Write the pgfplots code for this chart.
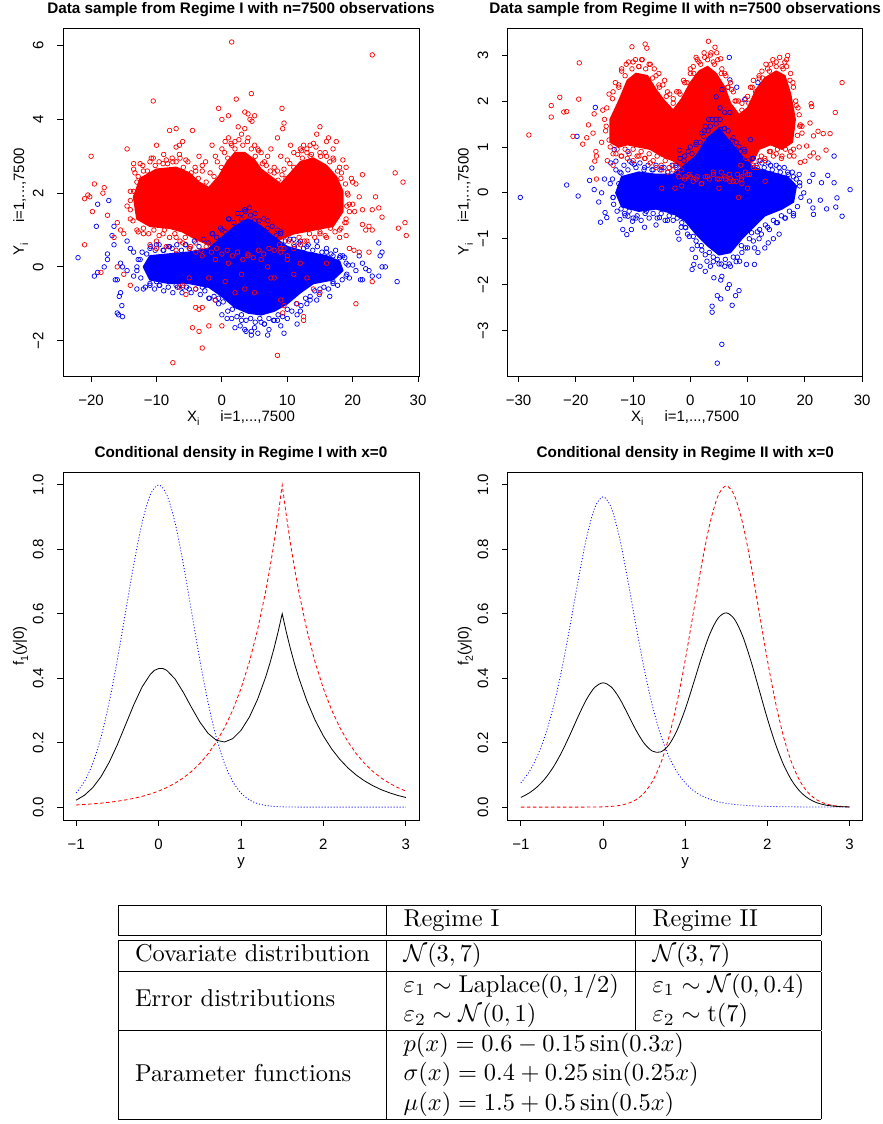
\documentclass[border=0pt]{standalone}
\usepackage{fontspec}
\usepackage{graphicx}
\usepackage{pgfplots}
\pgfplotsset{compat=1.18}
\newfontfamily\plotfont{Liberation Sans}
\newcommand{\sub}[1]{\raisebox{-0.28em}{\fontsize{10.5bp}{10.5bp}\selectfont #1}}

\pgfplotsset{
  rplot/.style={
    scale only axis,
    width=356bp, height=348bp,
    tick align=outside, tick pos=left,
    major tick length=5.7bp,
    every tick/.style={black, line width=0.8bp},
    axis line style={black, line width=0.8bp},
    tick label style={font=\plotfont\fontsize{15bp}{18bp}\selectfont},
    xticklabel style={anchor=base, yshift=-23.5bp},
    yticklabel style={rotate=90, anchor=base, yshift=14bp},
    title style={font=\plotfont\bfseries\fontsize{15.3bp}{18bp}\selectfont, at={(0.5,1)}, anchor=base, yshift=9bp},
    every axis x label/.style={at={(0.5,0)}, anchor=base, yshift=-45bp, font=\plotfont\fontsize{15bp}{18bp}\selectfont},
    every axis y label/.style={at={(0,0.5)}, rotate=90, anchor=base, yshift=39bp, font=\plotfont\fontsize{15bp}{18bp}\selectfont},
  },
  pts/.style={only marks, mark=o, mark size=2.3bp, mark options={line width=0.7bp}},
  core/.style={line width=1.5bp, line join=round},
}

\begin{document}
\begin{tikzpicture}
\path[use as bounding box] (0bp,0bp) rectangle (883bp,-1124bp);

% ---------- Regime I sample ----------
\begin{axis}[rplot, at={(63bp,-376bp)}, anchor=south west,
    xmin=-24.3, xmax=30.15, ymin=-2.96, ymax=6.48,
    xtick={-20,-10,0,10,20,30}, xticklabels={−20,−10,0,10,20,30},
    ytick={-2,0,2,4,6}, yticklabels={−2,0,2,4,6},
    title={Data sample from Regime I with n=7500 observations},
    xlabel={X\sub{i}\hspace{21bp}i=1,...,7500},
    ylabel={Y\sub{i}\hspace{21bp}i=1,...,7500}]
\addplot[core, draw=red, fill=red] coordinates {(-13,1.3)(-13.5,1.9)(-12.5,2.4)(-10,2.65)(-7,2.7)(-5,2.55)(-3.5,2.3)(-2,2.15)(-0.5,2.45)(0.8,2.85)(2,3.1)(3.5,3.1)(5,2.9)(6,2.65)(7.5,2.45)(9,2.25)(10.5,2.55)(12,2.85)(14,2.95)(16,2.75)(17.5,2.45)(18.5,2.05)(18.5,1.5)(17,1.1)(14,1.0)(11,0.9)(9,0.75)(7,0.6)(4,0.45)(1,0.5)(-2,0.6)(-4,0.75)(-6,0.95)(-8,1.05)(-11,1.1)} -- cycle;
\addplot[core, draw=blue, fill=blue] coordinates {(-12,0.0)(-11,0.3)(-8,0.35)(-5,0.4)(-2,0.5)(0,0.8)(2,1.1)(4,1.3)(6,1.1)(8,0.8)(10,0.55)(13,0.4)(16,0.3)(18,0.15)(18.5,-0.1)(17,-0.35)(14,-0.45)(12,-0.7)(10,-1.0)(8,-1.2)(6,-1.3)(4,-1.25)(2,-1.1)(0,-0.8)(-2,-0.55)(-5,-0.45)(-8,-0.45)(-11,-0.35)} -- cycle;
\addplot[pts, blue] coordinates {(-22,0.25)(-19,1.7)(-17.3,1.8)(-19.2,1.1)(-16.5,1.1)(-16.8,0.85)(-16.5,0.6)(-17.5,0.35)(-17.5,0.2)(-18,0.0)(-19.5,-0.25)(-19,-0.15)(-16.3,-0.35)(-16,-0.35)(-15.5,-0.7)(-15.7,-0.8)(-15.3,-1.05)(-16,-1.25)(-15.8,-1.3)(-15.2,-1.35)(-15.5,0.1)(-15.2,0.0)(-14.5,0.7)(-14,0.5)(-13.5,0.4)(-13.5,-0.25)(-13,-0.6)(-12,-0.6)(-11,-0.5)(-10,-0.4)(-9.5,-0.5)(-11,0.5)(-10,0.6)(-8,0.55)(-7,0.35)(-5.5,0.6)(-4,0.3)(-3,-0.55)(-2,-0.85)(-1.5,0.9)(0,1.0)(1,1.3)(3,1.45)(4.2,1.6)(3.5,1.55)(5,1.25)(7,1.25)(8.5,1.0)(9,0.9)(11,0.75)(12,0.7)(14.5,0.7)(13,0.55)(16,0.4)(17,0.3)(18,0.25)(19,0.1)(20,0.05)(20.5,-0.1)(21,0.3)(21.5,0.1)(22,-0.05)(22.5,-0.1)(23,-0.25)(24,-0.25)(24.5,0.0)(25,0.0)(24.2,0.3)(24.5,0.4)(24,0.65)(26.8,-0.4)(21.2,-0.35)(21.5,-0.35)(19.5,-0.3)(17,-0.4)(16,-0.3)(16.5,-0.8)(15,-0.6)(14.5,-0.9)(13,-1.0)(12,-1.2)(11.5,-1.3)(11.5,-1.55)(10,-1.4)(9.5,-1.8)(9,-1.6)(8.5,-1.45)(7.2,-1.7)(7,-1.85)(6,-1.5)(5.5,-1.8)(4.5,-1.75)(4.5,-1.85)(3.5,-1.7)(3.7,-1.75)(2.8,-1.6)(2,-1.65)(1.5,-1.4)(0.8,-1.4)(0,-1.3)(-0.5,-0.85)(-1,-0.9)(-2.5,-0.5)(-5,-0.6)(-7,-0.5)(-8.5,-0.35)(6.5,-1.55)(8,-1.45)(5,-1.65)(3,-1.45)(-12.5,0.2)(-13,0.0)(-14.5,-0.1)(-9,0.45)(-6,-0.55)(18.5,0.3)(19,-0.25)(13.5,-0.8)
(-12.8,0.2)(-12.2,0.4)(-11.5,0.35)(-10.9,0.55)(-10.2,0.45)(-9.6,0.6)(-8.9,0.45)(-8.2,0.55)(-7.6,0.5)(-6.9,0.6)(-6.2,0.45)(-5.6,0.6)(-4.9,0.5)(-4.2,0.7)(-3.5,0.55)(-2.8,0.75)(-2.1,0.65)(-1.4,0.9)(-0.8,0.8)(-0.2,1.05)(0.5,0.95)(1.1,1.3)(1.8,1.2)(2.4,1.45)(3.0,1.3)(3.6,1.5)(4.4,1.4)(5.1,1.45)(5.7,1.25)(6.4,1.3)(7.0,1.05)(7.7,1.1)(8.3,0.85)(9.0,0.95)(9.7,0.7)(10.4,0.75)(11.1,0.55)(11.8,0.65)(12.5,0.5)(13.2,0.6)(13.9,0.45)(14.6,0.55)(15.3,0.4)(16.0,0.5)(16.7,0.35)(17.4,0.45)(18.1,0.3)(18.8,0.25)(19.3,0.05)(19.1,-0.2)(18.4,-0.35)(17.7,-0.5)(17.0,-0.45)(16.3,-0.6)(15.6,-0.55)(14.9,-0.75)(14.2,-0.65)(13.5,-0.9)(12.8,-0.85)(12.1,-1.05)(11.4,-1.0)(10.7,-1.2)(10.0,-1.15)(9.3,-1.35)(8.6,-1.3)(7.9,-1.45)(7.2,-1.4)(6.5,-1.55)(5.8,-1.4)(5.1,-1.5)(4.4,-1.4)(3.7,-1.45)(3.0,-1.3)(2.3,-1.35)(1.6,-1.15)(0.9,-1.2)(0.2,-0.95)(-0.5,-1.0)(-1.2,-0.8)(-1.9,-0.85)(-2.6,-0.65)(-3.3,-0.75)(-4.0,-0.6)(-4.7,-0.7)(-5.4,-0.55)(-6.1,-0.7)(-6.8,-0.55)(-7.5,-0.7)(-8.2,-0.55)(-8.9,-0.65)(-9.6,-0.5)(-10.3,-0.6)(-11.0,-0.45)(-11.7,-0.55)(-12.4,-0.3)(-13.0,-0.1)};
\addplot[pts, red] coordinates {(1.5,6.1)(23,5.75)(-10.5,4.5)(2.2,4.55)(4.5,4.7)(-0.5,4.3)(9.2,4.3)(3.5,4.2)(4,4.15)(5,4.1)(0,4.0)(1,4.1)(4.3,4.0)(4.6,3.95)(-7,3.75)(-8,3.7)(-4.5,3.7)(8.5,3.5)(9.5,3.9)(9.3,3.75)(15,3.8)(14.5,3.6)(13.5,3.3)(14,3.35)(12.5,3.3)(12.2,3.15)(17,3.2)(16,3.4)(17.5,3.4)(16.3,3.5)(-6.5,3.3)(-7,3.25)(-6,3.4)(-10,3.3)(-14.5,3.2)(-13.5,2.8)(-13.5,2.65)(-11,2.85)(-20,3.0)(-19.5,2.25)(-20.5,1.95)(-21,1.85)(-20.2,1.9)(-18,2.15)(-18.2,2.0)(-17.5,1.4)(-19.8,1.5)(-21,0.6)(-16,1.2)(-15.5,1.0)(-16.5,0.8)(-15,0.9)(-14.5,1.65)(-14,2.05)(-12.5,2.1)(19,2.7)(18.2,2.4)(20,2.3)(20.5,2.25)(21.5,2.5)(21,1.9)(21.5,1.55)(20,1.7)(20.3,1.5)(22,1.0)(22.5,0.4)(21,0.4)(19.5,0.5)(20.2,0.45)(23,1.55)(24,1.6)(24.5,1.35)(23.5,1.9)(26.5,2.55)(27.7,2.3)(27,1.05)(28,1.2)(28.2,0.85)(21.5,1.15)(22.5,1.1)(23,1.0)(19,1.2)(18,0.8)(19,0.85)(20.5,-1.0)(23,-0.4)(-16,0.0)(-15,-0.2)(-18.5,-0.15)(-14,-0.5)(-4,-1.1)(-3.5,-1.15)(-3,-1.1)(-4.5,-1.65)(-3.5,-1.75)(-3,-2.2)(-7.5,-2.6)(-2,-1.6)(0,-1.6)(-1,-0.9)(2,-0.7)(5,-0.7)(8,-0.3)(9,-0.9)(9.5,-1.05)(11.5,-1.0)(12.5,-1.35)(12.5,-1.45)(8.5,-2.4)(9.3,-1.25)(-6,-0.5)(-5,-0.3)(-6.5,-0.55)(-2,-0.3)(0.5,-0.4)(3,-0.2)(6,0.2)(10,0.2)(11,-0.2)(13,-0.3)(14,-0.6)(15,-0.7)(3.5,-0.6)(7.5,-0.3)(-5.5,-0.75)(-4,-0.6)(1,0.1)(4,0.3)(7,0.0)(9,0.5)(-1,0.2)(12,0.1)(16,0.1)(-12,2.6)(-11,2.5)(-9,2.8)(-8.5,2.9)(-7.5,2.85)(-5.5,2.9)(-4,2.6)(-3,2.75)(-2.5,2.85)(-1,3.0)(0,3.2)(0.5,3.4)(1,3.5)(1.5,3.3)(2,3.4)(3,3.6)(4,3.5)(5,3.3)(5.5,3.2)(6.5,2.85)(7,3.0)(8,2.7)(8.5,2.6)(9.5,2.65)(10,2.9)(11,3.1)(12,3.2)(13,3.1)(15,3.1)(16,3.0)(17,2.95)(18,2.7)(19.2,2.0)(19.5,1.7)(18.8,1.2)(18,1.0)(16,0.8)(15,0.9)(13,0.7)(12,0.6)(11,0.5)(10,0.3)(9,0.4)(-3,0.3)(-4,0.4)(-5,0.5)(-7,0.8)(-9,0.9)(-10,0.7)(-12,0.9)(-13,1.0)(-14,1.3)(-14,1.8)(-13,2.3)(-10,0.5)(-8.5,0.55)(-7,0.45)(-6,0.65)(-11,0.6)(-12.5,2.8)(-10.5,2.95)(-6.5,3.05)(-3.5,3.0)(-1.5,3.3)(2.5,3.8)(3.5,3.75)(6,3.1)(7.5,3.2)(9,3.0)(10.5,3.3)(13.5,3.0)(18.5,2.9)(19.8,2.4)
(-13.5,2.05)(-13.3,2.55)(-12.8,2.45)(-12.1,2.75)(-11.4,2.6)(-10.8,2.95)(-10.2,2.75)(-9.6,2.85)(-8.9,3.05)(-8.3,2.8)(-7.6,2.95)(-7.0,2.85)(-6.4,2.95)(-5.9,2.7)(-5.2,2.85)(-4.7,2.55)(-4.1,2.7)(-3.6,2.4)(-3.0,2.6)(-2.4,2.3)(-1.8,2.55)(-1.2,2.45)(-0.7,2.85)(-0.1,2.7)(0.4,3.1)(0.9,2.95)(1.4,3.35)(2.0,3.2)(2.6,3.45)(3.2,3.3)(3.9,3.4)(4.5,3.2)(5.1,3.0)(5.6,3.15)(6.2,2.8)(6.8,2.75)(7.4,2.6)(8.0,2.55)(8.6,2.35)(9.2,2.5)(9.8,2.4)(10.4,2.8)(11.0,2.7)(11.6,3.05)(12.3,2.95)(13.0,3.2)(13.7,3.05)(14.4,3.25)(15.1,3.0)(15.8,3.1)(16.5,2.85)(17.1,2.9)(17.7,2.6)(18.3,2.55)(18.9,2.25)(19.3,1.95)(19.1,1.65)(19.5,1.5)(19.0,1.3)(18.2,1.05)(17.3,0.95)(16.6,1.05)(15.8,0.85)(15.0,0.95)(14.2,0.8)(13.4,0.9)(12.6,0.7)(11.8,0.8)(11.0,0.6)(10.2,0.7)(9.5,0.5)(8.8,0.6)(8.0,0.45)(7.2,0.5)(6.4,0.35)(5.6,0.45)(4.8,0.25)(4.0,0.35)(3.2,0.2)(2.4,0.4)(1.6,0.3)(0.8,0.45)(0.0,0.35)(-0.8,0.5)(-1.6,0.4)(-2.4,0.55)(-3.2,0.45)(-4.0,0.65)(-4.8,0.55)(-5.6,0.8)(-6.4,0.7)(-7.2,0.9)(-8.0,0.8)(-8.8,1.0)(-9.6,0.85)(-10.4,1.0)(-11.2,0.9)(-12.0,1.05)(-12.8,0.95)(-13.6,1.25)(-14.0,1.55)};
\end{axis}

% ---------- Regime II sample ----------
\begin{axis}[rplot, at={(507.7bp,-376bp)}, anchor=south west, width=355bp,
    xmin=-31.9, xmax=30.1, ymin=-3.99, ymax=3.59,
    xtick={-30,-20,-10,0,10,20,30}, xticklabels={−30,−20,−10,0,10,20,30},
    ytick={-3,-2,-1,0,1,2,3}, yticklabels={−3,−2,−1,0,1,2,3},
    title={Data sample from Regime II with n=7500 observations},
    xlabel={X\sub{i}\hspace{21bp}i=1,...,7500},
    ylabel={Y\sub{i}\hspace{21bp}i=1,...,7500}]
\addplot[core, draw=red, fill=red] coordinates {(-14,1.1)(-14,1.6)(-12.5,2.0)(-11,2.45)(-9.5,2.6)(-7.5,2.55)(-6,2.25)(-4.5,2.0)(-3,1.8)(-1.5,2.05)(0,2.4)(1.5,2.65)(3,2.75)(4.5,2.6)(6,2.3)(7,1.95)(8.5,1.7)(10,1.85)(11.5,2.25)(13,2.5)(15,2.65)(16.5,2.55)(17.5,2.15)(18.3,1.6)(17.8,1.1)(16,0.95)(14,1.05)(12,0.95)(11,0.7)(9.5,0.55)(8,0.5)(6.5,0.5)(5,0.55)(3,0.5)(1.5,0.4)(0,0.45)(-1.5,0.55)(-3,0.7)(-5,0.8)(-7,0.95)(-9,1.0)(-11,1.05)(-12.5,1.0)} -- cycle;
\addplot[core, draw=blue, fill=blue] coordinates {(-13,0.0)(-12,0.35)(-9,0.45)(-6,0.4)(-3,0.4)(-1,0.6)(1,0.8)(3,1.2)(5,1.4)(7,1.1)(9,0.8)(11,0.55)(14,0.45)(17,0.35)(18.5,0.15)(18,-0.2)(16,-0.35)(13,-0.5)(11,-0.75)(9,-1.0)(7,-1.3)(5,-1.35)(3,-1.15)(1,-0.9)(-1,-0.6)(-3,-0.45)(-6,-0.35)(-9,-0.4)(-12,-0.3)} -- cycle;
\addplot[pts, blue] coordinates {(5.5,-3.3)(4.7,-3.71)(3.8,-2.47)(3.8,-2.6)(4.7,-2.24)(5.3,-2.31)(7.3,-2.45)(8.5,-2.13)(7.9,-2.24)(6.5,-2.08)(6.8,-2.0)(4.1,-1.85)(5.5,-1.82)(5.3,-1.9)(0.3,-1.23)(0.9,-1.41)(0.3,-1.67)(0.6,-1.56)(2.9,-1.49)(3.5,-1.6)(1.7,-1.6)(2.6,-1.71)(8.6,-1.49)(9.8,-1.56)(11.2,-1.56)(13.6,-1.09)(11.2,-1.2)(10.7,-0.87)(12.1,-0.8)(11.8,-1.3)(6.8,2.95)(6.9,2.46)(8.1,2.3)(9.5,2.03)(11.8,2.4)(5.5,2.25)(4.5,2.09)(5.2,1.85)(6.0,1.75)(6.9,1.75)(3.2,1.6)(2.6,1.45)(-1.9,0.93)(2.3,1.23)(5.2,1.38)(10.5,1.16)(-16.6,1.86)(-19.8,1.23)(-21.6,0.17)(-19.6,-0.07)(-29.7,-0.1)(27.9,0.07)(25.1,0.8)(25.1,0.22)(25.6,-0.11)(25.4,-0.31)(26.5,-0.51)(24.0,0.38)(22.9,0.22)(23.8,-0.35)(22.7,-0.16)(21.4,-0.33)(21.5,-0.47)(20.8,0.25)(20.8,-0.18)(21.4,0.4)(19.8,0)(19.1,0.22)(-17.2,0.54)(-17.6,0.27)(-16.8,0.07)(-15.7,-0.64)(-14.9,-0.43)(-14.6,-0.54)(-13.4,-0.25)(-12.3,-0.58)(-11.8,-0.8)(-11.1,-0.91)(-10.3,-0.8)(-10.1,-0.62)(-10.9,-0.51)(-13.9,0.65)(-13.0,0.69)(-13.3,0.94)(-10.9,0.9)(-10.6,0.69)(-9.8,0.62)(-12.1,0.43)(-8.9,-0.14)(-7.7,-0.4)(-5.4,-0.54)(-3.1,-0.43)(-2.2,-0.87)(-2.0,-1.01)(-0.8,-0.76)(-14,0.2)(-13.5,-0.1)(-12.5,0.2)(-11.5,-0.45)(-9.5,-0.55)(-8,0.55)(-6.5,0.5)(-5,0.55)(-4,-0.6)(-2.5,0.6)(-1,0.8)(0,1.0)(1,1.1)(2,1.3)(3.5,1.45)(4.5,1.6)(6,1.4)(7.5,1.2)(8.5,1.0)(9.5,0.9)(11,0.75)(12.5,0.65)(14,0.6)(15.5,0.55)(17,0.45)(18,0.35)(19,0.4)(18,-0.5)(16.5,-0.55)(15,-0.65)(13.5,-0.75)(12,-1.0)(10,-1.2)(9,-1.3)(8,-1.5)(7,-1.6)(6,-1.6)(5,-1.55)(4,-1.4)(2,-1.25)(1,-1.05)(-0.5,-0.9)(-1.5,-0.65)(17.5,0.0)(16,-0.1)(-15,0.3)(-15.5,0.0)(-16,-0.2)(14.5,-1.0)(13,-1.2)(15.5,-0.9)(-6,-0.7)(-8,-0.75)
(-13.6,0.3)(-13.0,0.5)(-12.3,0.45)(-11.6,0.6)(-10.9,0.5)(-10.2,0.65)(-9.5,0.55)(-8.8,0.65)(-8.1,0.5)(-7.4,0.6)(-6.7,0.5)(-6.0,0.6)(-5.3,0.5)(-4.6,0.55)(-3.9,0.45)(-3.2,0.6)(-2.5,0.55)(-1.8,0.75)(-1.1,0.7)(-0.4,0.9)(0.3,0.85)(1.0,1.05)(1.7,1.1)(2.4,1.35)(3.1,1.35)(3.8,1.6)(4.5,1.5)(5.2,1.6)(5.9,1.4)(6.6,1.35)(7.3,1.15)(8.0,1.1)(8.7,0.9)(9.4,0.95)(10.1,0.7)(10.8,0.75)(11.5,0.6)(12.2,0.7)(12.9,0.55)(13.6,0.65)(14.3,0.5)(15.0,0.6)(15.7,0.45)(16.4,0.55)(17.1,0.4)(17.8,0.45)(18.5,0.3)(19.1,0.15)(19.3,-0.1)(18.7,-0.3)(18.0,-0.45)(17.3,-0.4)(16.6,-0.55)(15.9,-0.5)(15.2,-0.65)(14.5,-0.6)(13.8,-0.8)(13.1,-0.7)(12.4,-0.9)(11.7,-0.85)(11.0,-1.05)(10.3,-1.0)(9.6,-1.2)(8.9,-1.15)(8.2,-1.4)(7.5,-1.4)(6.8,-1.55)(6.1,-1.45)(5.4,-1.55)(4.7,-1.45)(4.0,-1.5)(3.3,-1.3)(2.6,-1.35)(1.9,-1.15)(1.2,-1.15)(0.5,-0.95)(-0.2,-0.95)(-0.9,-0.75)(-1.6,-0.75)(-2.3,-0.55)(-3.0,-0.6)(-3.7,-0.5)(-4.4,-0.6)(-5.1,-0.45)(-5.8,-0.55)(-6.5,-0.45)(-7.2,-0.55)(-7.9,-0.45)(-8.6,-0.6)(-9.3,-0.5)(-10.0,-0.55)(-10.7,-0.4)(-11.4,-0.5)(-12.1,-0.35)(-12.8,-0.4)(-13.5,-0.1)};
\addplot[pts, red] coordinates {(-10.2,3.18)(-7.9,3.24)(-7.6,3.15)(-19.4,2.83)(-19.5,2.04)(-22.8,2.08)(-24.3,1.9)(-24.3,1.65)(-22.1,1.76)(-21.6,1.77)(-28.2,1.26)(-20.5,1.23)(-18.8,1.06)(-18.1,1.2)(-17.8,1.48)(-16.8,1.72)(-16.5,0.9)(-16.4,0.8)(-16.7,0.69)(-16.4,0.3)(3.15,3.3)(4.3,3.17)(4.6,3.05)(5.3,2.92)(17,2.99)(26.5,2.4)(25.3,1.75)(21.1,1.94)(21.2,1.88)(20.9,1.52)(19.2,1.48)(19.5,1.45)(24.4,1.29)(23.2,1.29)(22.3,1.34)(21.5,1.24)(23.7,0.93)(20.3,1.02)(19.2,0.66)(20,0.69)(20.9,0.8)(21.5,0.87)(22.3,0.76)(18.1,0.8)(-5,0.1)(-2.7,0.1)(13.06,0.25)(8.4,-0.1)(6.9,0.25)(-15,1.6)(-15.5,1.1)(-14.5,0.7)(-14.8,1.35)(-13.5,2.2)(-12.5,2.35)(-12,2.7)(-11.2,2.8)(-10,2.85)(-9,2.75)(-8.5,2.9)(-7,2.8)(-6.3,2.7)(-5.5,2.6)(-4.5,2.45)(-4,2.2)(-3,2.05)(-2,2.2)(-5.5,2.35)(-13,0.85)(-12,0.8)(-11,0.75)(-10,0.7)(-9,0.8)(-8,0.75)(-7,0.65)(-6,0.55)(-5,0.5)(-4,0.45)(-3,0.5)(-2,0.35)(-1,0.3)(-13.5,0.6)(-14,1.0)(-15.3,1.8)(-17,1.3)(-1,2.4)(0,2.6)(0.5,2.75)(1.5,2.85)(2.5,2.95)(3.5,3.0)(4,2.85)(5.5,2.7)(6.2,2.55)(6.5,2.3)(7,2.4)(7.5,2.2)(8,2.0)(9,1.95)(6,2.1)(-0.5,2.2)(1,2.95)(10,2.1)(10.5,2.3)(11,2.45)(12,2.5)(12.5,2.65)(13.5,2.7)(14,2.8)(15,2.85)(16,2.75)(16.5,2.85)(17.5,2.6)(18,2.3)(18.5,1.9)(19,1.7)(19.5,1.3)(19,1.0)(17.5,0.9)(16,0.8)(15,0.85)(14,0.9)(13,0.75)(12,0.7)(11,0.55)(10,0.4)(9,0.35)(17.8,1.4)(16.8,2.9)(0,0.35)(1,0.3)(2,0.2)(3,0.35)(4,0.4)(5,0.3)(6,0.35)(7,0.3)(8,0.25)(9,0.2)(10,0.1)(-1.5,0.15)(5,0.1)(8.8,0.6)(9.7,0.75)
(-14.6,1.85)(-14.2,2.15)(-13.6,2.05)(-13.1,2.4)(-12.5,2.3)(-12.0,2.65)(-11.4,2.55)(-10.8,2.85)(-10.2,2.7)(-9.6,2.9)(-9.0,2.75)(-8.4,2.9)(-7.8,2.7)(-7.2,2.8)(-6.6,2.5)(-6.0,2.55)(-5.4,2.3)(-4.8,2.35)(-4.2,2.1)(-3.6,2.15)(-3.0,1.95)(-2.4,2.2)(-1.8,2.15)(-1.2,2.45)(-0.6,2.4)(0.0,2.7)(0.6,2.6)(1.2,2.9)(1.8,2.8)(2.4,3.05)(3.0,2.9)(3.6,3.05)(4.2,2.8)(4.8,2.9)(5.4,2.6)(6.0,2.6)(6.6,2.3)(7.2,2.25)(7.8,2.0)(8.4,2.0)(9.0,1.8)(9.6,2.05)(10.2,1.95)(10.8,2.3)(11.4,2.2)(12.0,2.55)(12.6,2.5)(13.2,2.8)(13.8,2.65)(14.4,2.9)(15.0,2.75)(15.6,2.95)(16.2,2.7)(16.8,2.75)(17.4,2.45)(17.9,2.4)(18.4,2.0)(18.8,1.85)(19.1,1.45)(18.7,1.25)(18.0,0.95)(17.3,0.8)(16.6,0.95)(15.9,0.75)(15.2,0.95)(14.5,0.8)(13.8,0.9)(13.1,0.7)(12.4,0.8)(11.7,0.55)(11.0,0.6)(10.3,0.4)(9.6,0.45)(8.9,0.3)(8.2,0.4)(7.5,0.25)(6.8,0.4)(6.1,0.3)(5.4,0.45)(4.7,0.3)(4.0,0.45)(3.3,0.3)(2.6,0.35)(1.9,0.2)(1.2,0.35)(0.5,0.25)(-0.2,0.4)(-0.9,0.35)(-1.6,0.5)(-2.3,0.45)(-3.0,0.6)(-3.7,0.55)(-4.4,0.7)(-5.1,0.6)(-5.8,0.8)(-6.5,0.7)(-7.2,0.85)(-7.9,0.75)(-8.6,0.9)(-9.3,0.8)(-10.0,0.95)(-10.7,0.85)(-11.4,0.95)(-12.1,0.8)(-12.8,0.95)(-13.5,0.85)(-14.2,1.15)(-14.7,1.45)};
\end{axis}

% ---------- Regime I density ----------
\begin{axis}[rplot, at={(63bp,-820bp)}, anchor=south west,
    xmin=-1.16, xmax=3.16, ymin=-0.04, ymax=1.04,
    xtick={-1,0,1,2,3}, xticklabels={−1,0,1,2,3},
    ytick={0,0.2,0.4,0.6,0.8,1}, yticklabels={0.0,0.2,0.4,0.6,0.8,1.0},
    title={Conditional density in Regime I with x=0},
    xlabel={y}, ylabel={f\sub{1}(y|0)}]
\addplot[blue, line width=0.8bp, dash pattern=on 1bp off 2bp, smooth] coordinates {(-1.0,0.0439)(-0.9,0.0796)(-0.8,0.1353)(-0.7,0.2163)(-0.6,0.3247)(-0.5,0.4578)(-0.4,0.6065)(-0.3,0.7548)(-0.2,0.8825)(-0.1,0.9692)(0,1)(0.1,0.9692)(0.2,0.8825)(0.3,0.7548)(0.4,0.6065)(0.5,0.4578)(0.6,0.3247)(0.7,0.2163)(0.8,0.1353)(0.9,0.0796)(1.0,0.0439)(1.1,0.0228)(1.2,0.0111)(1.3,0.0051)(1.4,0.0022)(1.5,0.0009)(1.6,0.0003)(1.8,0)(3,0)};
\addplot[red, line width=0.8bp, dash pattern=on 3.5bp off 2.5bp] coordinates {(-1.0,0.0067)(-0.9,0.0082)(-0.8,0.0101)(-0.7,0.0123)(-0.6,0.0150)(-0.5,0.0183)(-0.4,0.0224)(-0.3,0.0273)(-0.2,0.0334)(-0.1,0.0408)(0,0.0498)(0.1,0.0608)(0.2,0.0743)(0.3,0.0907)(0.4,0.1108)(0.5,0.1353)(0.6,0.1653)(0.7,0.2019)(0.8,0.2466)(0.9,0.3012)(1.0,0.3679)(1.1,0.4493)(1.2,0.5488)(1.3,0.6703)(1.35,0.7408)(1.4,0.8187)(1.45,0.9048)(1.5,1)(1.55,0.9048)(1.6,0.8187)(1.65,0.7408)(1.7,0.6703)(1.8,0.5488)(1.9,0.4493)(2.0,0.3679)(2.1,0.3012)(2.2,0.2466)(2.3,0.2019)(2.4,0.1653)(2.5,0.1353)(2.6,0.1108)(2.7,0.0907)(2.8,0.0743)(2.9,0.0608)(3.0,0.0498)};
\addplot[black, line width=0.8bp] coordinates {(-1.0,0.0216)(-0.9,0.0368)(-0.8,0.0602)(-0.7,0.0939)(-0.6,0.1389)(-0.5,0.1941)(-0.4,0.2560)(-0.3,0.3183)(-0.2,0.3730)(-0.1,0.4122)(-0.05,0.4245)(0,0.4299)(0.05,0.4304)(0.1,0.4242)(0.2,0.3976)(0.3,0.3563)(0.4,0.3091)(0.5,0.2643)(0.6,0.2291)(0.7,0.2077)(0.8,0.2021)(0.9,0.2126)(1.0,0.2383)(1.1,0.2787)(1.2,0.3337)(1.3,0.4042)(1.35,0.4458)(1.4,0.4921)(1.45,0.5435)(1.5,0.6004)(1.55,0.5431)(1.6,0.4913)(1.65,0.4446)(1.7,0.4022)(1.8,0.3293)(1.9,0.2696)(2.0,0.2207)(2.1,0.1807)(2.2,0.1480)(2.3,0.1211)(2.4,0.0992)(2.5,0.0812)(2.6,0.0665)(2.7,0.0544)(2.8,0.0446)(2.9,0.0365)(3.0,0.0299)};
\end{axis}

% ---------- Regime II density ----------
\begin{axis}[rplot, at={(507.7bp,-820bp)}, anchor=south west, width=355bp,
    xmin=-1.16, xmax=3.16, ymin=-0.04, ymax=1.04,
    xtick={-1,0,1,2,3}, xticklabels={−1,0,1,2,3},
    ytick={0,0.2,0.4,0.6,0.8,1}, yticklabels={0.0,0.2,0.4,0.6,0.8,1.0},
    title={Conditional density in Regime II with x=0},
    xlabel={y}, ylabel={f\sub{2}(y|0)}]
\addplot[blue, line width=0.8bp, dash pattern=on 1bp off 2bp, smooth] coordinates {(-1.0,0.0750)(-0.9,0.1092)(-0.8,0.1579)(-0.7,0.2255)(-0.6,0.3158)(-0.5,0.4301)(-0.4,0.5645)(-0.3,0.7068)(-0.2,0.8369)(-0.1,0.9294)(0,0.963)(0.1,0.9294)(0.2,0.8369)(0.3,0.7068)(0.4,0.5645)(0.5,0.4301)(0.6,0.3158)(0.7,0.2255)(0.8,0.1579)(0.9,0.1092)(1.0,0.0750)(1.1,0.0514)(1.2,0.0353)(1.3,0.0243)(1.4,0.0168)(1.5,0.0117)(1.6,0.0083)(1.7,0.0059)(1.8,0.0042)(1.9,0.0030)(2.0,0.0022)(2.2,0.0012)(2.4,0.0007)(2.6,0.0004)(2.8,0.0002)(3.0,0.0001)};
\addplot[red, line width=0.8bp, dash pattern=on 3.5bp off 2.5bp, smooth] coordinates {(-1.0,0)(-0.3,0)(-0.2,0.0001)(-0.1,0.0003)(0,0.0009)(0.1,0.0022)(0.2,0.0051)(0.3,0.0111)(0.4,0.0227)(0.5,0.0438)(0.6,0.0794)(0.7,0.1349)(0.8,0.2157)(0.9,0.3237)(1.0,0.4564)(1.1,0.6047)(1.2,0.7525)(1.3,0.8799)(1.4,0.9663)(1.5,0.997)(1.6,0.9663)(1.7,0.8799)(1.8,0.7525)(1.9,0.6047)(2.0,0.4564)(2.1,0.3237)(2.2,0.2157)(2.3,0.1349)(2.4,0.0794)(2.5,0.0438)(2.6,0.0227)(2.7,0.0111)(2.8,0.0051)(2.9,0.0022)(3.0,0.0009)};
\addplot[black, line width=0.8bp, smooth] coordinates {(-1.0,0.0300)(-0.9,0.0437)(-0.8,0.0632)(-0.7,0.0902)(-0.6,0.1263)(-0.5,0.1720)(-0.4,0.2258)(-0.3,0.2827)(-0.2,0.3348)(-0.1,0.3720)(0,0.3857)(0.1,0.3731)(0.2,0.3379)(0.3,0.2894)(0.4,0.2394)(0.5,0.1983)(0.6,0.1739)(0.7,0.1711)(0.8,0.1926)(0.9,0.2379)(1.0,0.3038)(1.1,0.3834)(1.2,0.4656)(1.3,0.5376)(1.4,0.5865)(1.5,0.6029)(1.6,0.5831)(1.7,0.5303)(1.8,0.4532)(1.9,0.3640)(2.0,0.2747)(2.1,0.1948)(2.2,0.1299)(2.3,0.0813)(2.4,0.0479)(2.5,0.0265)(2.6,0.0138)(2.7,0.0067)(2.8,0.0031)(2.9,0.0013)(3.0,0.0005)};
\end{axis}

% ---------- settings table ----------
\node[anchor=north west, inner sep=0pt] at (118bp,-905bp) {\scalebox{2.45}{%
\setlength{\tabcolsep}{6.9pt}%
\begin{tabular}{|l|l|l|}
\hline
 & Regime I & Regime II \\
\hline\hline
Covariate distribution & $\mathcal{N}(3,7)$ & $\mathcal{N}(3,7)$ \\
\hline
Error distributions &
\begin{tabular}{@{}l@{}}$\varepsilon_1\sim\mathrm{Laplace}(0,1/2)$\\ $\varepsilon_2\sim\mathcal{N}(0,1)$\end{tabular} &
\begin{tabular}{@{}l@{}}$\varepsilon_1\sim\mathcal{N}(0,0.4)$\\ $\varepsilon_2\sim\mathrm{t}(7)$\end{tabular} \\
\hline
Parameter functions & \multicolumn{2}{l|}{\begin{tabular}{@{}l@{}}$p(x)=0.6-0.15\sin(0.3x)$\\ $\sigma(x)=0.4+0.25\sin(0.25x)$\\ $\mu(x)=1.5+0.5\sin(0.5x)$\end{tabular}} \\
\hline
\end{tabular}}};
\end{tikzpicture}
\end{document}
